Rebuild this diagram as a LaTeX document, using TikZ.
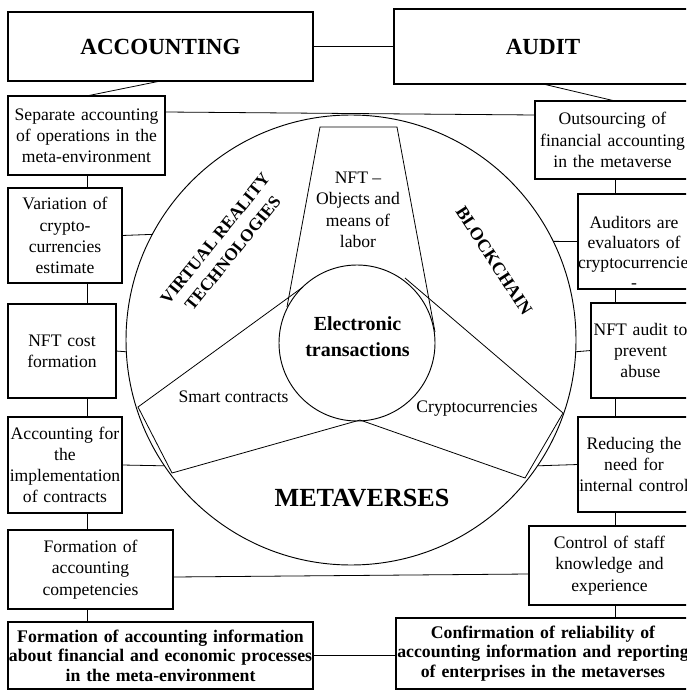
\documentclass[tikz,border=0pt]{standalone}
\usepackage{fontspec}
\setmainfont{Liberation Serif}
\usetikzlibrary{calc}
\begin{document}
\begin{tikzpicture}[x=0.75pt,y=-0.75pt,
  sz/.style 2 args={minimum width=#1, minimum height=#2, text width=#1},
  box/.style={draw, line width=0.8pt, rectangle, inner sep=0pt, outer sep=0pt, align=center, font=\fontsize{13.2}{15.9}\selectfont},
  bbox/.style={box, font=\bfseries\fontsize{13.3}{14.6}\selectfont},
  hbox/.style={box, font=\bfseries\fontsize{17.3}{20}\selectfont},
  conn/.style={line width=0.6pt},
  txt/.style={align=center, inner sep=0pt, font=\fontsize{13.2}{15.9}\selectfont},
  btxt/.style={align=center, inner sep=0pt, font=\bfseries\fontsize{13}{17}\selectfont}]
\useasboundingbox (0,0) rectangle (686,691);
\clip (0,0) rectangle (686,691);

% column reference coordinates
\coordinate (lc) at (87,0);
\coordinate (rc) at (615,0);

% boxes
\node[hbox, sz={228.75pt}{51.75pt}] (acc) at (160.5,46.5) {ACCOUNTING};
\node[hbox, sz={223.5pt}{56.25pt}] (aud) at (543,46.5) {AUDIT};
\node[box, sz={117.75pt}{59.25pt}] (sep) at (86.5,135.5) {Separate accounting\\of operations in the\\meta-environment};
\node[box, sz={116.25pt}{58.5pt}] (out) at (612.5,140) {Outsourcing of\\financial accounting\\in the metaverse};
\node[box, sz={85.5pt}{71.25pt}] (var) at (65,235.5) {Variation of\\crypto-\\currencies\\estimate};
\node[box, sz={84pt}{71.25pt}] (audr) at (634,241.5) {};
\node[txt, text width=84pt, font=\fontsize{13.2}{15}\selectfont] (audrt) at ($(audr.center)+(0,11)$) {Auditors are\\evaluators of\\cryptocurrencies\\-};
\node[box, sz={81pt}{70.5pt}] (nftc) at (62,351) {NFT cost\\formation};
\node[box, sz={74.25pt}{71.25pt}] (nfta) at (640.5,350.5) {NFT audit to\\prevent\\abuse};
\node[box, sz={85.5pt}{72pt}] (accf) at (65,465) {Accounting for\\the\\implementation\\of contracts};
\node[box, sz={84pt}{71.25pt}] (red) at (634,464.5) {Reducing the\\need for\\internal control};
\node[box, sz={123.75pt}{59.25pt}] (form) at (90.5,569.5) {Formation of\\accounting\\competencies};
\node[box, sz={120.75pt}{59.25pt}] (ctrl) at (609.5,565.5) {Control of staff\\knowledge and\\experience};
\node[bbox, sz={228.75pt}{50.25pt}] (finl) at (160.5,655.5) {Formation of accounting information\\about financial and economic processes\\in the meta-environment};
\node[bbox, sz={220.5pt}{53.25pt}] (finr) at (543,653.5) {Confirmation of reliability of\\accounting information and reporting\\of enterprises in the metaverses};

% central circles
\node[circle, draw, line width=0.7pt, minimum size=337.5pt, inner sep=0pt, outer sep=0pt] (big) at (351,340) {};

% trapezoid (NFT sector)
\coordinate (t1) at (287,307);
\coordinate (t2) at (320,127);
\coordinate (t3) at (397,127);
\coordinate (t4) at (435,332);
\draw[conn] (t1) -- (t2) -- (t3) -- (t4);

% spokes with chords
\coordinate (s1) at (303,287);
\coordinate (s2) at (138,407);
\coordinate (s3) at (172,473);
\coordinate (s4) at (360,420);
\coordinate (s5) at (525,478);
\coordinate (s6) at (563,413);
\coordinate (s7) at (405,278);
\draw[conn] (s1) -- (s2) -- (s3) -- (s4) -- (s5) -- (s6) -- (s7);

\node[circle, draw, line width=0.7pt, minimum size=117pt, inner sep=0pt, outer sep=0pt] (et) at (357,343) {};
\node[align=center, inner sep=0pt, font=\bfseries\fontsize{15}{20}\selectfont] (ett) at (357.5,336.5) {Electronic\\transactions};

% inner texts
\node[txt, font=\fontsize{13.2}{16.1}\selectfont] (nftt) at (358,210) {NFT --\\Objects and\\means of\\labor};
\node[btxt, rotate=51] (vrt) at (224,246) {VIRTUAL REALITY\\TECHNOLOGIES};
\node[btxt, rotate=-57, font=\bfseries\fontsize{13.5}{17}\selectfont] (bct) at (494,261) {BLOCKCHAIN};
\node[txt] (smt) at (233.5,397) {Smart contracts};
\node[txt] (crt) at (477,409) {Cryptocurrencies};
\node[align=center, inner sep=0pt, font=\bfseries\fontsize{19.6}{22}\selectfont] (mvt) at (362,498) {METAVERSES};

% connectors between boxes
\draw[conn] (acc.east) -- (aud.west);
\draw[conn] (acc.south) -- (sep.north);
\draw[conn] (aud.south) -- (out.north -| rc);
\draw[conn] ($(sep.north east)+(0,16)$) -- ($(out.north west)+(0,14)$);
\draw[conn] ($(form.east)+(0,7.5)$) -- ($(ctrl.west)+(0,8.5)$);
\draw[conn] (finl.east) -- (finl.east -| finr.west);

% left column
\draw[conn] (sep.south -| lc) -- (var.north -| lc);
\draw[conn] (var.south -| lc) -- (nftc.north -| lc);
\draw[conn] (nftc.south -| lc) -- (accf.north -| lc);
\draw[conn] (accf.south -| lc) -- (form.north -| lc);
\draw[conn] (form.south -| lc) -- (finl.north -| lc);

% right column
\draw[conn] (out.south -| rc) -- (audr.north -| rc);
\draw[conn] (audr.south -| rc) -- (nfta.north -| rc);
\draw[conn] (nfta.south -| rc) -- (red.north -| rc);
\draw[conn] (red.south -| rc) -- (ctrl.north -| rc);
\draw[conn] (ctrl.south -| rc) -- (finr.north -| rc);

% boxes to circle
\draw[conn] (var.east) -- (big.152.8);
\draw[conn] (nftc.east) -- (big.183);
\draw[conn] (accf.east) -- (big.214.7);
\draw[conn] (audr.west) -- (big.26);
\draw[conn] (nfta.west) -- (big.357.3);
\draw[conn] (red.west) -- (big.326.4);
\end{tikzpicture}
\end{document}
